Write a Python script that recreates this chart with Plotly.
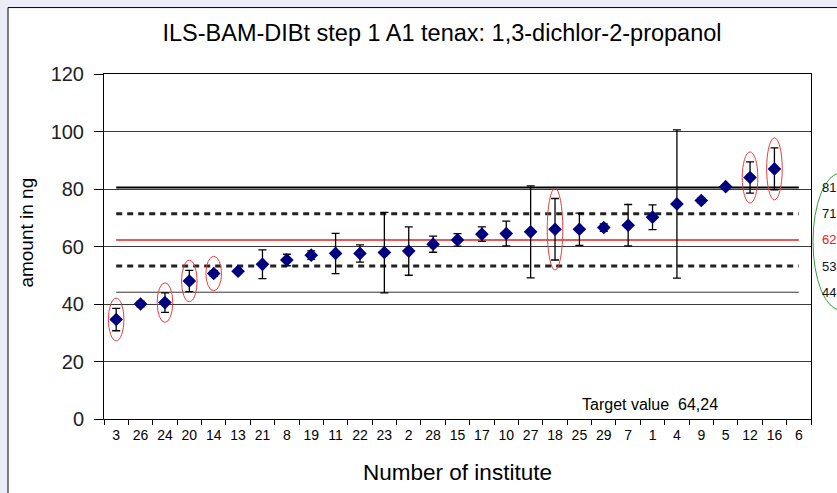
import plotly.graph_objects as go

# ---------------- data ----------------
institutes = ["3", "26", "24", "20", "14", "13", "21", "8", "19", "11", "22", "23", "2", "28",
              "15", "17", "10", "27", "18", "25", "29", "7", "1", "4", "9", "5", "12", "16", "6"]
values = [34.6, 40.0, 40.5, 48.0, 50.6, 51.4, 53.8, 55.3, 57.0, 57.6, 57.6, 57.9, 58.4, 60.8,
          62.3, 64.3, 64.5, 65.1, 66.0, 66.0, 66.6, 67.4, 70.2, 74.8, 76.0, 80.8, 84.0, 87.0, None]
errors = [3.9, 1.0, 3.4, 3.7, 1.0, 0.5, 5.0, 2.0, 1.5, 7.0, 3.0, 14.0, 8.4, 2.8,
          2.2, 2.5, 4.3, 16.0, 10.7, 5.6, 1.3, 7.2, 4.3, 25.8, 0.8, 0.6, 5.4, 7.3, None]
outliers = ["3", "24", "20", "14", "18", "12", "16"]

ref_values = [80.5, 71.4, 62.3, 53.2, 44.1]
ref_labels = ["81", "71", "62", "53", "44"]
target_text = "Target value  64,24"
title = "ILS-BAM-DIBt step 1 A1 tenax: 1,3-dichlor-2-propanol"

# ---------------- layout geometry (pixels) ----------------
W, H = 837, 493
L, R, T, B = 104, 811, 74, 422


def px_x(p):
    return (p - L) / (R - L)


def px_y(p):
    return (B - p) / (B - T)


FONT = "Liberation Sans, Arial, sans-serif"

fig = go.Figure()

# reference lines
ref_styles = [
    dict(color="black", width=2, dash="solid"),
    dict(color="#222222", width=3, dash="6px,5px"),
    dict(color="#e8201c", width=1.5, dash="solid"),
    dict(color="#222222", width=3, dash="6px,5px"),
    dict(color="#333333", width=1, dash="solid"),
]
for v, st in zip(ref_values, ref_styles):
    fig.add_trace(go.Scatter(x=[institutes[0], institutes[-1]], y=[v, v], mode="lines",
                             line=st, hoverinfo="skip", showlegend=False))

# data points
fig.add_trace(go.Scatter(
    x=institutes, y=values, mode="markers",
    marker=dict(symbol="diamond", size=10.5, color="#00007f"),
    error_y=dict(type="data", array=errors, visible=True, color="black",
                 thickness=1.3, width=4),
    showlegend=False,
))

shapes = []
# outer frame
shapes.append(dict(type="rect", xref="paper", yref="paper",
                   x0=px_x(8), x1=px_x(900), y0=px_y(560), y1=px_y(7),
                   fillcolor="white", line=dict(color="black", width=1), layer="below"))

# red ellipses around flagged institutes
for inst in outliers:
    i = institutes.index(inst)
    v = values[i]
    e = errors[i] or 0
    h = max(e + 3.5, 6.0)
    shapes.append(dict(type="circle", xref="x", yref="y",
                       x0=i - 0.32, x1=i + 0.32, y0=v - h, y1=v + h,
                       line=dict(color="#e84040", width=1)))

# green ellipse around right labels
shapes.append(dict(type="circle", xref="paper", yref="paper",
                   x0=px_x(813), x1=px_x(868), y0=px_y(312), y1=px_y(174),
                   line=dict(color="#3a9a3a", width=1)))

annotations = []
for v, lab in zip(ref_values, ref_labels):
    annotations.append(dict(x=px_x(820), xref="paper", y=v, yref="y", text=lab,
                            showarrow=False, xanchor="left", yanchor="middle",
                            font=dict(family=FONT, size=13,
                                      color="#e8201c" if lab == "62" else "#111111")))
annotations.append(dict(x=px_x(650), xref="paper", y=px_y(407), yref="paper",
                        text=target_text, showarrow=False,
                        xanchor="center", yanchor="middle",
                        font=dict(family=FONT, size=16, color="black")))
annotations.append(dict(x=px_x(27), xref="paper", y=px_y(234), yref="paper",
                        text="amount in ng", textangle=-90, showarrow=False,
                        xanchor="center", yanchor="middle",
                        font=dict(family=FONT, size=19, color="black")))

fig.update_layout(
    width=W, height=H,
    margin=dict(l=L, r=W - R, t=T, b=H - B),
    paper_bgcolor="#ececf8",
    plot_bgcolor="white",
    title=dict(text=title, x=442 / W, xref="container", xanchor="center",
               y=1 - 33 / H, yref="container", yanchor="middle",
               font=dict(family=FONT, size=23.5, color="black")),
    shapes=shapes,
    annotations=annotations,
    xaxis=dict(type="category", categoryorder="array", categoryarray=institutes,
               range=[-0.5, len(institutes) - 0.5],
               showgrid=False, showline=True, linecolor="black", linewidth=1,
               mirror=True, ticks="outside", tickson="boundaries", ticklen=5,
               tickcolor="black", tickangle=0, ticklabelstandoff=3,
               tickfont=dict(family=FONT, size=14, color="black"),
               title=dict(text="Number of institute", standoff=22,
                          font=dict(family=FONT, size=22.5, color="black"))),
    yaxis=dict(range=[0, 120], dtick=20, showgrid=True, gridcolor="#3a3a3a",
               gridwidth=1, showline=True, linecolor="black", linewidth=1,
               mirror=True, ticks="outside", ticklen=9, tickcolor="black",
               zeroline=False, ticklabelstandoff=6,
               tickfont=dict(family=FONT, size=20, color="#222222")),
)

fig.write_html("out.html", config={"displayModeBar": False},
               post_script="document.body.style.margin='0';")
